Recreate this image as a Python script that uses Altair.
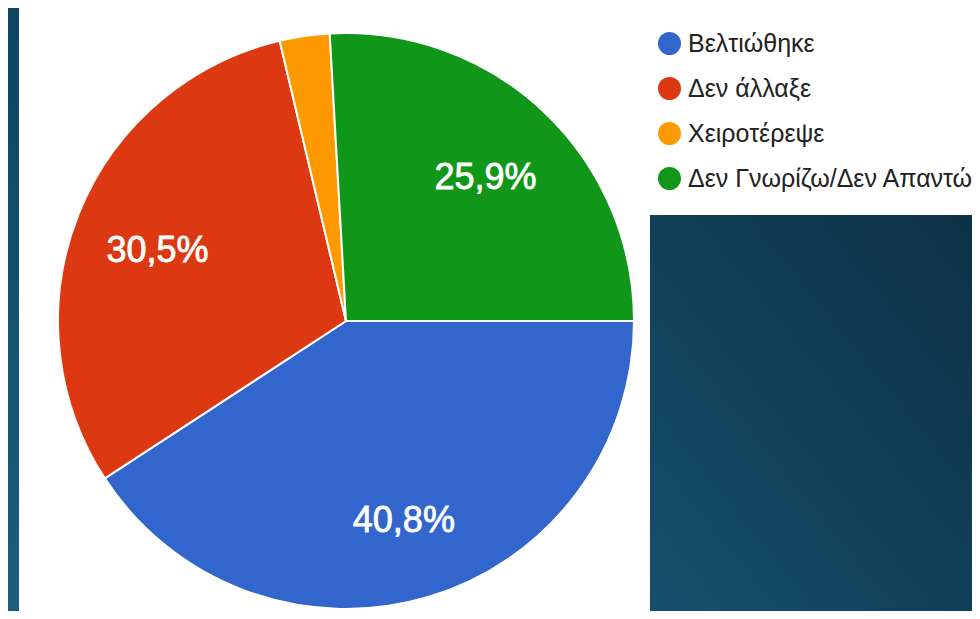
import math
import altair as alt
import pandas as pd

categories = ["Βελτιώθηκε", "Δεν άλλαξε", "Χειροτέρεψε", "Δεν Γνωρίζω/Δεν Απαντώ"]
values = [40.8, 30.5, 2.8, 25.9]
labels = ["40,8%", "30,5%", "", "25,9%"]
colors = ["#3366cc", "#dc3912", "#ff9900", "#109618"]

df = pd.DataFrame({
    "cat": categories,
    "value": values,
    "label": labels,
    "idx": list(range(len(categories))),
})

W, H = 964, 603
CX, CY, R = 338, 313, 288

deco = alt.Data(values=[{"a": 1}])

left_strip = alt.Chart(deco).mark_rect(
    color=alt.LinearGradient(
        gradient="linear",
        stops=[alt.GradientStop(color="#0f4560", offset=0),
               alt.GradientStop(color="#1b5e7c", offset=1)],
        x1=0, y1=0, x2=0, y2=1,
    )
).encode(x=alt.value(0), x2=alt.value(11), y=alt.value(0), y2=alt.value(H))

block = alt.Chart(deco).mark_rect(
    color=alt.LinearGradient(
        gradient="linear",
        stops=[alt.GradientStop(color="#0d3046", offset=0),
               alt.GradientStop(color="#15506c", offset=1)],
        x1=1, y1=0, x2=0, y2=1,
    )
).encode(x=alt.value(642), x2=alt.value(W), y=alt.value(207), y2=alt.value(H))

theta = alt.Theta("value:Q", stack=True,
                  scale=alt.Scale(range=[math.pi / 2, math.pi / 2 + 2 * math.pi]))

color = alt.Color(
    "cat:N",
    scale=alt.Scale(domain=categories, range=colors),
    legend=alt.Legend(
        title=None, orient="none", legendX=649, legendY=23,
        symbolType="circle", symbolSize=530, symbolStrokeWidth=0,
        labelFont="Liberation Sans", labelFontSize=25, labelColor="#222222",
        labelOffset=6, rowPadding=19, padding=0, labelLimit=400,
    ),
)

pie = alt.Chart(df).mark_arc(stroke="white", strokeWidth=2, outerRadius=R).encode(
    theta=theta,
    color=color,
    order=alt.Order("idx:Q"),
    x=alt.value(CX),
    y=alt.value(CY),
)

text = alt.Chart(df).mark_text(
    radius=203, dy=5, font="Liberation Sans", fontSize=36, color="white",
    stroke="white", strokeWidth=0.8,
    align="center", baseline="middle",
).encode(
    theta=theta,
    text="label:N",
    order=alt.Order("idx:Q"),
    x=alt.value(CX),
    y=alt.value(CY),
)

chart = alt.layer(left_strip, block, pie, text).properties(
    width=W, height=H,
    autosize=alt.AutoSizeParams(type="fit", contains="padding"),
    padding=0,
    background="white",
).configure_view(stroke=None)

chart.save("out.html", embed_options={"renderer": "svg", "actions": False})
